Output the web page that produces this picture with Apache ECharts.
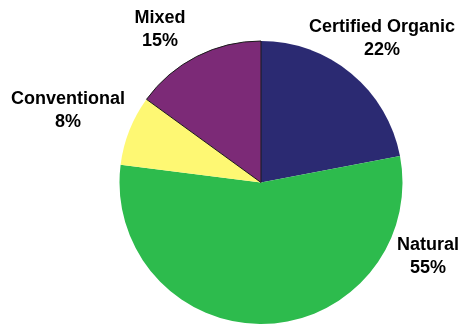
<!DOCTYPE html>
<html>
<head>
<meta charset="utf-8">
<script src="https://cdn.jsdelivr.net/npm/echarts@6/dist/echarts.min.js"></script>
<style>
  html, body { margin: 0; padding: 0; background: #ffffff; }
  #chart { width: 461px; height: 326px; }
</style>
</head>
<body>
<div id="chart"></div>
<script>
// Share of products by farming practice (percent)
const categories = ['Certified Organic', 'Natural', 'Conventional', 'Mixed'];
const shares = [22, 55, 8, 15];

// Slice fills, in category order
const sliceColors = ['#2b2a72', '#2dbb4d', '#fef873', '#7c2a77'];
// Label block centres (px), in category order
const labelSpots = [[382, 39], [428, 257], [68, 111], [160, 30]];

const chart = echarts.init(document.getElementById('chart'), null, { renderer: 'canvas' });

const pieData = categories.map((name, i) => {
  const item = { name: name, value: shares[i], itemStyle: { color: sliceColors[i] } };
  if (name === 'Mixed') {
    item.itemStyle.borderColor = '#1a1a1a';
    item.itemStyle.borderWidth = 1;
  }
  return item;
});

chart.setOption({
  animation: false,
  series: [{
    type: 'pie',
    center: [261, 182.5],
    radius: 141.5,
    startAngle: 90,
    clockwise: true,
    data: pieData,
    label: {
      show: true,
      position: 'inside',
      overflow: 'none',
      formatter: '{b}\n{c}%',
      fontFamily: 'Liberation Sans, Arial, sans-serif',
      fontWeight: 'bold',
      fontSize: 18,
      lineHeight: 23,
      color: '#000000',
      textBorderWidth: 0,
      align: 'center'
    },
    labelLine: { show: false },
    labelLayout: function (params) {
      const p = labelSpots[params.dataIndex];
      return { x: p[0], y: p[1], align: 'center', verticalAlign: 'middle' };
    },
    emphasis: { disabled: true }
  }]
});
</script>
</body>
</html>
